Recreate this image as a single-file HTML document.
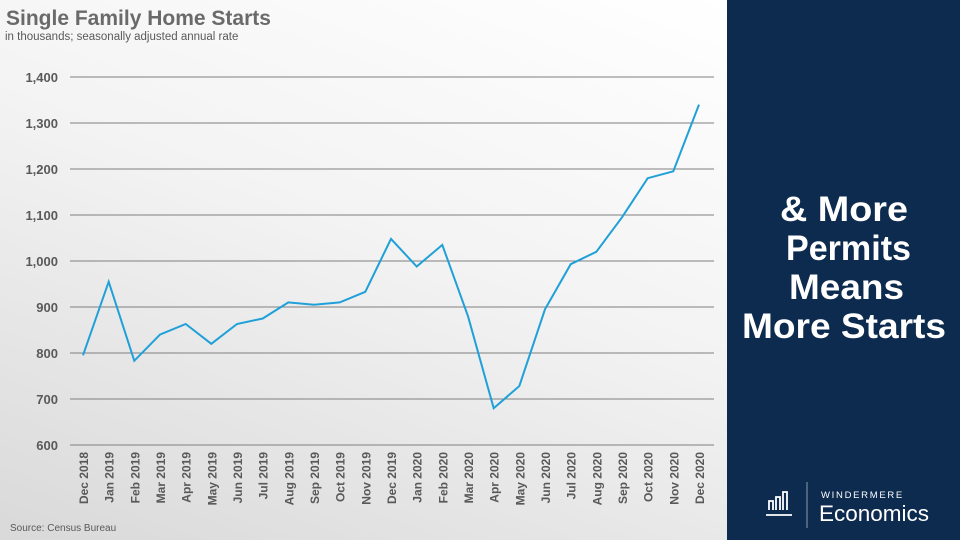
<!DOCTYPE html>
<html><head><meta charset="utf-8"><style>
body{margin:0;width:960px;height:540px;overflow:hidden;font-family:"Liberation Sans",sans-serif}
.bg{position:absolute;left:0;top:0;width:727px;height:540px;background:linear-gradient(200deg,#ffffff 0%,#f3f3f3 45%,#d9d9d9 100%)}
.side{position:absolute;left:727px;top:0;width:233px;height:540px;background:#0d2a4f}
</style></head><body>
<div class="bg"></div>
<div class="side"></div>
<svg width="960" height="540" style="position:absolute;left:0;top:0" font-family="Liberation Sans, sans-serif">
<text x="6" y="25" font-size="21" font-weight="bold" fill="#6a6a6a">Single Family Home Starts</text>
<text x="5" y="40" font-size="11.5" fill="#595959">in thousands; seasonally adjusted annual rate</text>
<g stroke="#7f7f7f" stroke-width="1">
<line x1="70" x2="714" y1="77" y2="77"/><line x1="70" x2="714" y1="123" y2="123"/>
<line x1="70" x2="714" y1="169" y2="169"/><line x1="70" x2="714" y1="215" y2="215"/>
<line x1="70" x2="714" y1="261" y2="261"/><line x1="70" x2="714" y1="307" y2="307"/>
<line x1="70" x2="714" y1="353" y2="353"/><line x1="70" x2="714" y1="399" y2="399"/>
<line x1="70" x2="714" y1="445" y2="445"/>
</g>
<g font-size="13" font-weight="bold" fill="#595959" text-anchor="end">
<text x="58" y="82">1,400</text><text x="58" y="128">1,300</text><text x="58" y="174">1,200</text>
<text x="58" y="220">1,100</text><text x="58" y="266">1,000</text><text x="58" y="312">900</text>
<text x="58" y="358">800</text><text x="58" y="404">700</text><text x="58" y="450">600</text>
</g>
<polyline fill="none" stroke="#1fa0d8" stroke-width="2" points="83,355.3 108.7,281.7 134.3,360.8 160,334.6 185.7,324 211.3,343.8 237,324 262.7,318.5 288.3,302.4 314,304.7 339.7,302.4 365.3,291.8 391,238.9 416.7,266.5 442.3,244.9 468,316.2 493.7,408.2 519.3,386.1 545,309.3 570.7,264.2 596.3,251.8 622,217.3 647.7,178.2 673.3,171.3 699,104.6"/>
<g font-size="12" font-weight="bold" fill="#595959" text-anchor="end">
<text transform="translate(88,452) rotate(-90)">Dec 2018</text>
<text transform="translate(113.7,452) rotate(-90)">Jan 2019</text>
<text transform="translate(139.3,452) rotate(-90)">Feb 2019</text>
<text transform="translate(165,452) rotate(-90)">Mar 2019</text>
<text transform="translate(190.7,452) rotate(-90)">Apr 2019</text>
<text transform="translate(216.3,452) rotate(-90)">May 2019</text>
<text transform="translate(242,452) rotate(-90)">Jun 2019</text>
<text transform="translate(267.7,452) rotate(-90)">Jul 2019</text>
<text transform="translate(293.3,452) rotate(-90)">Aug 2019</text>
<text transform="translate(319,452) rotate(-90)">Sep 2019</text>
<text transform="translate(344.7,452) rotate(-90)">Oct 2019</text>
<text transform="translate(370.3,452) rotate(-90)">Nov 2019</text>
<text transform="translate(396,452) rotate(-90)">Dec 2019</text>
<text transform="translate(421.7,452) rotate(-90)">Jan 2020</text>
<text transform="translate(447.3,452) rotate(-90)">Feb 2020</text>
<text transform="translate(473,452) rotate(-90)">Mar 2020</text>
<text transform="translate(498.7,452) rotate(-90)">Apr 2020</text>
<text transform="translate(524.3,452) rotate(-90)">May 2020</text>
<text transform="translate(550,452) rotate(-90)">Jun 2020</text>
<text transform="translate(575.7,452) rotate(-90)">Jul 2020</text>
<text transform="translate(601.3,452) rotate(-90)">Aug 2020</text>
<text transform="translate(627,452) rotate(-90)">Sep 2020</text>
<text transform="translate(652.7,452) rotate(-90)">Oct 2020</text>
<text transform="translate(678.3,452) rotate(-90)">Nov 2020</text>
<text transform="translate(704,452) rotate(-90)">Dec 2020</text>
</g>
<text x="10" y="531" font-size="10" fill="#595959">Source: Census Bureau</text>
<g font-size="35" font-weight="bold" fill="#fff" lengthAdjust="spacingAndGlyphs">
<text x="780" y="221" textLength="128" lengthAdjust="spacingAndGlyphs">&amp; More</text>
<text x="786" y="260" textLength="125" lengthAdjust="spacingAndGlyphs">Permits</text>
<text x="789" y="299" textLength="115" lengthAdjust="spacingAndGlyphs">Means</text>
<text x="742" y="338" textLength="204" lengthAdjust="spacingAndGlyphs">More Starts</text>
</g>
<g fill="none" stroke="#fff" stroke-width="1.8">
<path d="M769,510 v-9 h4 v9 M776,510 v-13 h4 v13 M783,510 v-18 h4 v18"/>
<line x1="766" y1="515" x2="792" y2="515"/>
</g>
<line x1="807" y1="482" x2="807" y2="528" stroke="#8a9bb3" stroke-width="1"/>
<text x="821" y="498" font-size="9.5" fill="#fff" letter-spacing="1.7">WINDERMERE</text>
<text x="819" y="521" font-size="22.5" fill="#fff">Economics</text>
</svg>
</body></html>
